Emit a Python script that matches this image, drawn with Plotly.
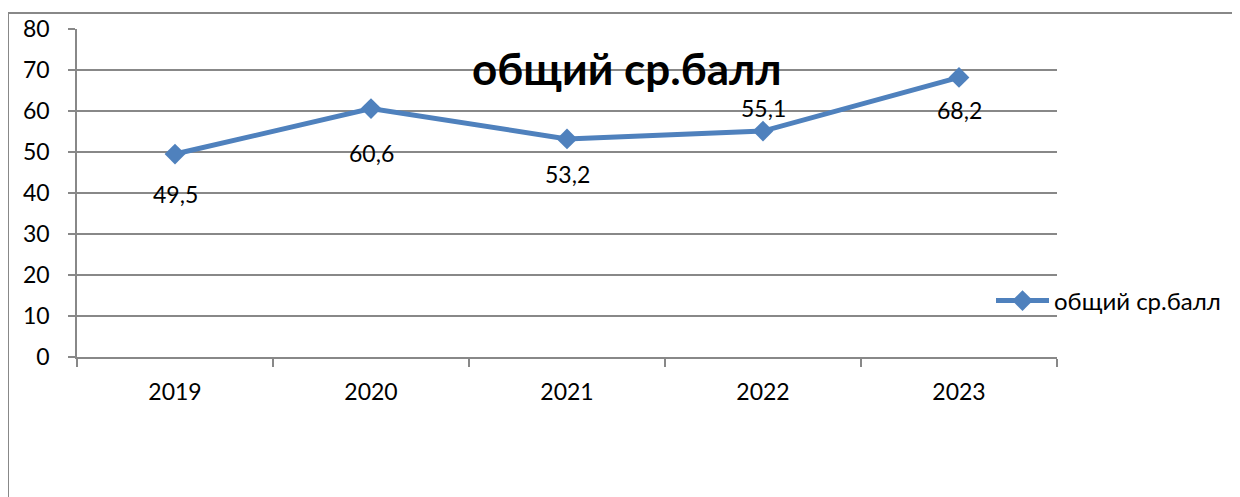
import plotly.graph_objects as go

years = ["2019", "2020", "2021", "2022", "2023"]
scores = [49.5, 60.6, 53.2, 55.1, 68.2]
score_labels = ["49,5", "60,6", "53,2", "55,1", "68,2"]
series_name = "общий ср.балл"
chart_title = "общий ср.балл"

# label offsets in pixels (style, not data)
label_shift = [-40, -44, -35, 23, -33]

FONT = "Lato, Calibri, Carlito, sans-serif"
BLUE = "#4F81BD"
GRID = "#888888"

# page body has an 8px margin, so the figure is offset by 8px
OFF = 8
W, H = 1240 - OFF, 497 - OFF
L, T = 77 - OFF, 29 - OFF
pw, ph = 980, 328
R = W - L - pw
B = H - T - ph

def sx(px):  # screen x -> paper
    return (px - 77) / pw

def sy(py):  # screen y -> paper
    return (357 - py) / ph

fig = go.Figure()
fig.add_trace(go.Scatter(
    x=years, y=scores, mode="lines+markers", name=series_name,
    line=dict(color=BLUE, width=5),
    marker=dict(symbol="diamond", size=16, color=BLUE),
))

for i, (y, t, s) in enumerate(zip(scores, score_labels, label_shift)):
    fig.add_annotation(x=i, y=y, xref="x", yref="y", text=t, showarrow=False, yshift=s,
                       font=dict(family=FONT, size=23, color="black"))

fig.add_annotation(xref="paper", yref="paper", x=sx(627), y=sy(68),
                   text="<b>" + chart_title + "</b>", showarrow=False,
                   xanchor="center", yanchor="middle",
                   font=dict(family=FONT, size=44, color="black"))

# outer chart frame (top and left edges visible)
fig.add_shape(type="line", xref="paper", yref="paper",
              x0=sx(8), y0=sy(13), x1=sx(1260), y1=sy(13),
              line=dict(color=GRID, width=2))
fig.add_shape(type="line", xref="paper", yref="paper",
              x0=sx(8), y0=sy(13), x1=sx(8), y1=sy(520),
              line=dict(color=GRID, width=2))

fig.update_layout(
    width=W, height=H,
    margin=dict(l=L, r=R, t=T, b=B, pad=0, autoexpand=False),
    paper_bgcolor="white", plot_bgcolor="white",
    font=dict(family=FONT, size=23, color="black"),
    showlegend=True,
    legend=dict(x=sx(991), y=sy(301), xanchor="left", yanchor="middle",
                font=dict(family=FONT, size=24, color="black"),
                bgcolor="rgba(0,0,0,0)", itemwidth=53),
)
fig.update_xaxes(
    type="category", range=[-0.5, 4.5], showgrid=False, automargin=False,
    showline=True, linecolor=GRID, linewidth=1.5,
    ticks="outside", ticklen=8, tickcolor=GRID, tickwidth=1.5,
    tickson="boundaries", ticklabelstandoff=14,
    tickfont=dict(family=FONT, size=23, color="black"),
)
fig.update_yaxes(
    range=[0, 80], dtick=10, showgrid=True, gridcolor=GRID, gridwidth=1.5,
    showline=True, linecolor=GRID, linewidth=1.5, zeroline=False, automargin=False,
    ticks="outside", ticklen=7, tickcolor=GRID, tickwidth=1.5,
    ticklabelstandoff=14,
    tickfont=dict(family=FONT, size=23, color="black"),
)

fig.write_html("out.html")
